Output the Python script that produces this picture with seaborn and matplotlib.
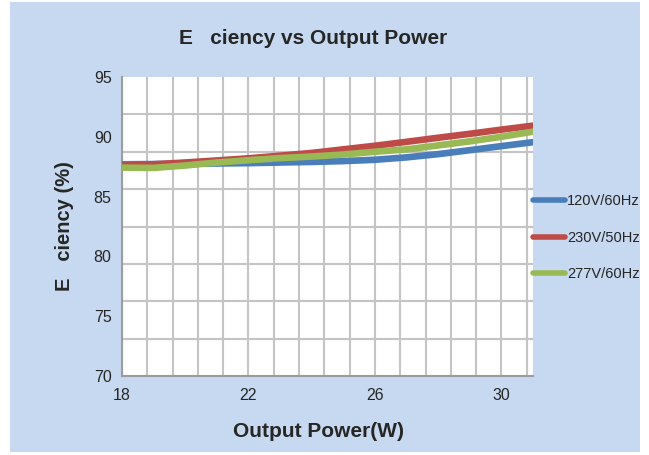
import matplotlib
matplotlib.use("Agg")
import matplotlib.pyplot as plt
import numpy as np
import pandas as pd
import seaborn as sns
from matplotlib.patches import Rectangle
from matplotlib.ticker import FixedLocator

power_w = [18, 19, 20, 21, 22, 23, 24, 25, 26, 27, 28, 29, 30, 31]
eff_120v = [87.70, 87.72, 87.75, 87.77, 87.80, 87.85, 87.90, 87.97, 88.08, 88.28, 88.55, 88.88, 89.22, 89.55]
eff_230v = [87.58, 87.70, 87.85, 88.02, 88.20, 88.42, 88.65, 88.95, 89.25, 89.58, 89.92, 90.25, 90.60, 90.93]
eff_277v = [87.42, 87.40, 87.60, 87.85, 88.04, 88.22, 88.35, 88.52, 88.75, 88.95, 89.28, 89.62, 90.00, 90.43]
series = ["120V/60Hz", "230V/50Hz", "277V/60Hz"]
colors = ["#4a7ebb", "#be4b48", "#98b954"]

y_ticks = [70, 75, 80, 85, 90, 95]
x_ticks = [18, 22, 26, 30]

df = pd.DataFrame({
    "power": power_w * 3,
    "eff": eff_120v + eff_230v + eff_277v,
    "line": [s for s in series for _ in power_w],
})

sns.set_style("white")
plt.rcParams["font.family"] = ["Liberation Sans", "DejaVu Sans"]

fig = plt.figure(figsize=(6.49, 4.55), dpi=100, facecolor="white")
fig.patches.append(Rectangle((10 / 649, 3 / 455), 630 / 649, 450 / 455,
                             transform=fig.transFigure, facecolor="#c6d9f0",
                             edgecolor="none", zorder=-10))
ax = fig.add_axes([122 / 649, 1 - 376 / 455, 411 / 649, 299 / 455])
ax.set_facecolor("white")

sns.lineplot(data=df, x="power", y="eff", hue="line", palette=colors,
             hue_order=series, lw=4.8, ax=ax, legend=True,
             solid_capstyle="round", zorder=5)

ax.set_xlim(18, 31)
ax.set_ylim(70, 95)
ax.set_xticks(x_ticks)
ax.set_yticks(y_ticks)
ax.xaxis.set_minor_locator(FixedLocator(np.arange(18, 31, 0.8)))
ax.yaxis.set_minor_locator(FixedLocator(np.arange(70, 95.01, 3.125)))
ax.grid(which="minor", color="#c4c4c4", lw=1.5)
ax.grid(which="major", axis="x", color="#c4c4c4", lw=1.5)
ax.set_axisbelow(True)

ax.tick_params(axis="y", which="major", length=0, labelsize=11.5, pad=7.5)
ax.tick_params(axis="y", which="minor", length=0)
ax.tick_params(axis="x", which="major", length=6, width=1.5, color="#999999",
               labelsize=11.5, pad=3)
ax.tick_params(axis="x", which="minor", length=3, width=1.2, color="#999999")

# darker every other horizontal grid line, with outward ticks
for t in ax.yaxis.get_minor_ticks():
    loc = t.get_loc()
    if abs((loc - 70) / 6.25 - round((loc - 70) / 6.25)) < 1e-6:
        t.gridline.set_color("#9c9c9c")
        t.tick1line.set_markersize(5)
        t.tick1line.set_markeredgewidth(1.5)
        t.tick1line.set_color("#9c9c9c")

for s in ["top", "right"]:
    ax.spines[s].set_visible(False)
for s in ["left", "bottom"]:
    ax.spines[s].set_color("#9c9c9c")
    ax.spines[s].set_linewidth(1.5)

ax.set_xlabel("Output Power(W)", fontsize=15, fontweight="bold", labelpad=13,
              x=0.477)
ax.set_ylabel("E   ciency (%)", fontsize=14.5, fontweight="bold", labelpad=14)
fig.text(313 / 649, 1 - 38 / 455, "E   ciency vs Output Power", fontsize=15,
         fontweight="bold", ha="center", va="center")

leg = ax.legend(loc="upper left", bbox_to_anchor=(533 / 649, 1 - 194 / 455),
                bbox_transform=fig.transFigure, frameon=False, fontsize=10.5,
                handlelength=2.2, handletextpad=0.15, labelspacing=1.55,
                borderaxespad=0, borderpad=0)
for h in leg.get_lines():
    h.set_linewidth(4)

fig.savefig("out.png", dpi=100)
